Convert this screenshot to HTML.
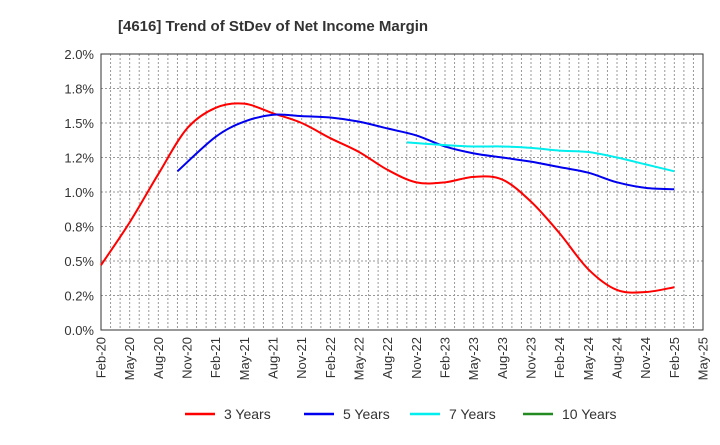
<!DOCTYPE html>
<html><head><meta charset="utf-8"><style>
body{margin:0;background:#fff;font-family:"Liberation Sans",Arial,sans-serif;}
svg text{font-family:"Liberation Sans",Arial,sans-serif;}
</style></head><body>
<svg id="c" width="720" height="440" xmlns="http://www.w3.org/2000/svg">
<text x="118" y="31" font-size="15" font-weight="bold" fill="#333">[4616]  Trend of StDev of Net Income Margin</text>
<g id="grid"></g><g id="axes"></g><g id="series"></g><g id="legend"></g>
</svg>
<script>
const xLabels=["Feb-20","May-20","Aug-20","Nov-20","Feb-21","May-21","Aug-21","Nov-21","Feb-22","May-22","Aug-22","Nov-22","Feb-23","May-23","Aug-23","Nov-23","Feb-24","May-24","Aug-24","Nov-24","Feb-25","May-25"];
const yTicks=[0,0.25,0.5,0.75,1.0,1.25,1.5,1.75,2.0];
const yTickLabels=["0.0%","0.2%","0.5%","0.8%","1.0%","1.2%","1.5%","1.8%","2.0%"];
// month index (0 = Feb-20)
const m3=[0,3,6,9,12,15,18,21,24,27,30,33,36,39,42,45,48,51,54,57,60];
const v3=[0.47,0.78,1.13,1.46,1.61,1.64,1.57,1.50,1.39,1.29,1.16,1.07,1.07,1.11,1.09,0.93,0.70,0.44,0.29,0.275,0.31];
const m5=[8,12,15,18,21,24,27,30,33,36,39,42,45,48,51,54,57,60];
const v5=[1.15,1.40,1.51,1.56,1.55,1.54,1.51,1.46,1.41,1.33,1.28,1.25,1.22,1.18,1.14,1.07,1.03,1.02];
const m7=[32,36,39,42,45,48,51,54,57,60];
const v7=[1.36,1.34,1.33,1.33,1.32,1.30,1.29,1.25,1.20,1.15];
const m10=[];const v10=[];
const L=101,R=703,T=54,B=330;
const xs=m=>L+(R-L)*m/63;
const ys=v=>B-(B-T)*v/2.0;
const NS="http://www.w3.org/2000/svg";
function mk(t,a,p){const e=document.createElementNS(NS,t);for(const k in a)e.setAttribute(k,a[k]);p.appendChild(e);return e;}
const grid=document.getElementById('grid'),axes=document.getElementById('axes'),ser=document.getElementById('series'),leg=document.getElementById('legend');
for(let m=1;m<63;m++){const l=mk('line',{x1:xs(m),x2:xs(m),y1:T,y2:B,stroke:'#999','stroke-dasharray':'2,2','stroke-width':1},grid);

}
yTicks.forEach((v,i)=>{if(i>0&&i<yTicks.length-1){const l=mk('line',{x1:L,x2:R,y1:ys(v),y2:ys(v),stroke:'#999','stroke-dasharray':'2,2'},grid);

}
const t=mk('text',{x:L-7,y:ys(v)+5,'text-anchor':'end','font-size':13,fill:'#333'},axes);t.textContent=yTickLabels[i];

});
const fr=mk('rect',{x:L,y:T,width:R-L,height:B-T,fill:'none',stroke:'#333','stroke-width':1},axes);


xLabels.forEach((s,i)=>{const x=xs(i*3);const t=mk('text',{transform:`translate(${x+4.5},${B+7}) rotate(-90)`,'text-anchor':'end','font-size':13,fill:'#333'},axes);t.textContent=s;

});
function path(ms,vs){if(!ms.length)return '';const p=ms.map((m,i)=>[xs(m),ys(vs[i])]);let d=`M${p[0][0]},${p[0][1]}`;
for(let i=0;i<p.length-1;i++){const p0=p[i-1]||p[i],p1=p[i],p2=p[i+1],p3=p[i+2]||p2;
d+=` C${p1[0]+(p2[0]-p0[0])/6},${p1[1]+(p2[1]-p0[1])/6} ${p2[0]-(p3[0]-p1[0])/6},${p2[1]-(p3[1]-p1[1])/6} ${p2[0]},${p2[1]}`;}return d;}
const S=[[m3,v3,'#ff0000','3 Years','series-3-years'],[m5,v5,'#0000ee','5 Years','series-5-years'],[m7,v7,'#00eeee','7 Years','series-7-years'],[m10,v10,'#228b22','10 Years','series-10-years']];
S.forEach(s=>{if(s[0].length){const p=mk('path',{d:path(s[0],s[1]),fill:'none',stroke:s[2],'stroke-width':2},ser);

}});
const lx=[185,304,410,523];
S.forEach((s,i)=>{const g=mk('g',{},leg);


mk('line',{x1:lx[i],x2:lx[i]+30,y1:414,y2:414,stroke:s[2],'stroke-width':2.5},g);
const t=mk('text',{x:lx[i]+39,y:419,'font-size':14,fill:'#333'},g);t.textContent=s[3];});
</script>
</body></html>
